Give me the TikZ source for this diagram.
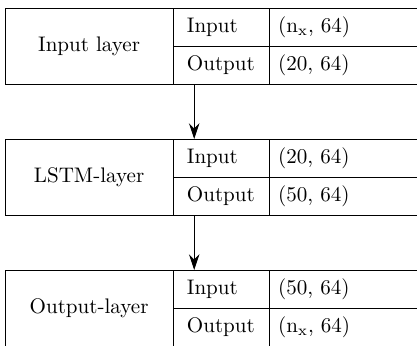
\documentclass[tikz,border=0pt]{standalone}
\usetikzlibrary{arrows.meta,positioning}
\begin{document}
\begin{tikzpicture}[
	every node/.style={outer sep=0pt},
	namebox/.style={draw,minimum width=79.8pt,minimum height=36.1pt,inner sep=0pt},
	keybox/.style={draw,text width=32.5pt,inner xsep=6.55pt,minimum height=18.05pt,text height=1.5ex,text depth=.25ex,align=left},
	valbox/.style={draw,text width=67.4pt,inner xsep=4.3pt,minimum height=18.05pt,text height=1.5ex,text depth=.25ex,align=left},
	flow/.style={-{Stealth[length=7.5pt,width=5pt,inset=2.5pt]}}
	]
	\clip (0,0) rectangle (198pt,-163.9pt);
	% input layer
	\node[namebox,anchor=north west] (inl) at (2.4pt,-3.8pt) {Input layer};
	\node[keybox,anchor=north west] (inlin) at (inl.north east) {Input};
	\node[keybox,below=0pt of inlin] (inlout) {Output};
	\node[valbox,right=0pt of inlin] (inlinv) {(n$_\mathrm{x}$, 64)};
	\node[valbox,right=0pt of inlout] (inloutv) {(20, 64)};
	% lstm layer
	\node[namebox,below=26.1pt of inl] (lstm) {LSTM-layer};
	\node[keybox,anchor=north west] (lstmin) at (lstm.north east) {Input};
	\node[keybox,below=0pt of lstmin] (lstmout) {Output};
	\node[valbox,right=0pt of lstmin] (lstminv) {(20, 64)};
	\node[valbox,right=0pt of lstmout] (lstmoutv) {(50, 64)};
	% output layer
	\node[namebox,below=26.1pt of lstm] (outl) {Output-layer};
	\node[keybox,anchor=north west] (outlin) at (outl.north east) {Input};
	\node[keybox,below=0pt of outlin] (outlout) {Output};
	\node[valbox,right=0pt of outlin] (outlinv) {(50, 64)};
	\node[valbox,right=0pt of outlout] (outloutv) {(n$_\mathrm{x}$, 64)};
	\draw[flow] ([xshift=10pt]inlout.south west) -- ([xshift=10pt]lstmin.north west);
	\draw[flow] ([xshift=10pt]lstmout.south west) -- ([xshift=10pt]outlin.north west);
\end{tikzpicture}
\end{document}
